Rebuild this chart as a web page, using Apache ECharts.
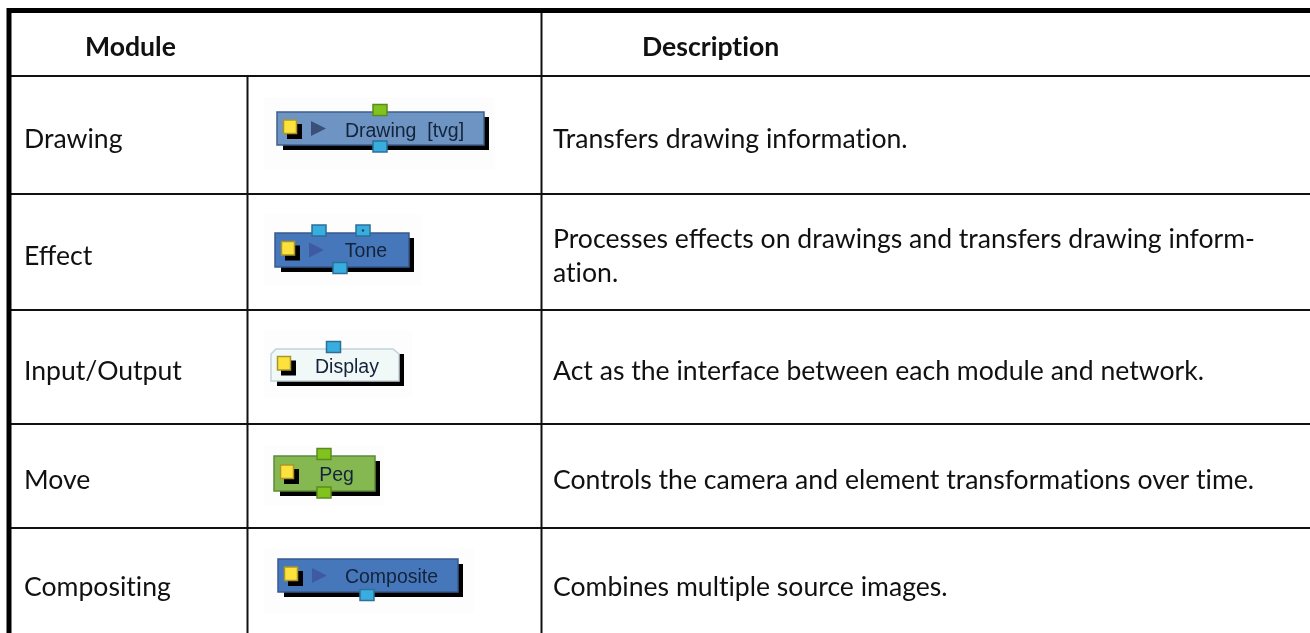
<!DOCTYPE html>
<html>
<head>
<meta charset="utf-8">
<style>
  html, body { margin: 0; padding: 0; background: #fff; }
  #main { width: 1310px; height: 633px; }
</style>
<script src="https://cdn.jsdelivr.net/npm/echarts@6/dist/echarts.min.js"></script>
</head>
<body>
<div id="main"></div>
<script>
// table content
var headers = ['Module', 'Description'];
var modules = ['Drawing', 'Effect', 'Input/Output', 'Move', 'Compositing'];
var nodeLabels = ['Drawing  [tvg]', 'Tone', 'Display', 'Peg', 'Composite'];
var descriptions = [
  'Transfers drawing information.',
  'Processes effects on drawings and transfers drawing inform-\nation.',
  'Act as the interface between each module and network.',
  'Controls the camera and element transformations over time.',
  'Combines multiple source images.'
];

// layout, in page pixels
var rowLines = [76, 194, 310, 424, 528];
var rowText = [139, 256, 371, 480, 587];
var col1 = 247.5, col2 = 541.5;
var textFont = 'Lato, "Noto Sans", sans-serif';
var blue = {c: '#38aee0', e: '#2c6f97'};
var green = {c: '#7fc31c', e: '#5c8a20'};

// look of each node: box, colours, ports
var nodeStyles = [
  {x: 277, y: 112, w: 207, h: 33, fill: '#6d94c2', edge: '#3e5f8c', arrow: '#3b5078', textX: 404.5, textY: 131.5,
    bg: [264, 97, 495, 169], top: [{x: 380, y: 110, s: green}], bottom: [{x: 380, y: 146.5, s: blue}]},
  {x: 275, y: 233, w: 134, h: 34, fill: '#4677ba', edge: '#38598f', arrow: '#3f5aa0', textX: 366, textY: 252,
    bg: [264, 214, 422, 285], top: [{x: 319, y: 230.5, s: blue}, {x: 363, y: 230.5, s: blue, dot: true}],
    bottom: [{x: 340, y: 268, s: blue}]},
  {x: 271, y: 349, w: 128, h: 32, fill: '#f1f8f8', edge: '#c2d2d6', textX: 347, textY: 368, chamfer: true,
    bg: [264, 330, 412, 398], top: [{x: 333.5, y: 347, s: blue}], bottom: []},
  {x: 274, y: 456, w: 101, h: 35, fill: '#86b852', edge: '#5e8a3c', textX: 336.5, textY: 476,
    bg: [264, 445, 384, 505], top: [{x: 324, y: 454, s: green}], bottom: [{x: 324, y: 492.5, s: green}]},
  {x: 278, y: 559, w: 180, h: 33, fill: '#4677ba', edge: '#38598f', arrow: '#3f5aa0', textX: 391.5, textY: 578,
    bg: [264, 548, 474, 613], top: [], bottom: [{x: 367, y: 595, s: blue}]}
];

// Lato joins "ti" into one glyph, the reference does not
function noLig(s) {
  return s.replace(/ti/g, 't\u200ci');
}

function port(api, p) {
  var c = api.coord([p.x, p.y]);
  var out = [{
    type: 'rect',
    shape: {x: c[0] - 7, y: c[1] - 5.5, width: 14, height: 11},
    style: {fill: p.s.c, stroke: p.s.e, lineWidth: 1.5}
  }];
  if (p.dot) {
    out.push({type: 'circle', shape: {cx: c[0], cy: c[1], r: 1.2}, style: {fill: '#1d3f5e'}});
  }
  return out;
}

function drawNode(api, n, label) {
  var o = api.coord([n.x, n.y]);
  var w = api.size([n.w, 0])[0], h = api.size([0, n.h])[1];
  var b0 = api.coord([n.bg[0], n.bg[1]]), b1 = api.coord([n.bg[2], n.bg[3]]);
  var kids = [];
  // faint backing of the pasted screenshot
  kids.push({type: 'rect', shape: {x: b0[0], y: b0[1], width: b1[0] - b0[0], height: b1[1] - b0[1]}, style: {fill: '#fdfdfd'}});
  // hard shadow
  kids.push({type: 'rect', shape: {x: o[0] + 6, y: o[1] + 5, width: w - 1, height: h}, style: {fill: '#000'}});
  if (n.chamfer) {
    kids.push({type: 'polygon', shape: {points: [
      [o[0] + 5, o[1]], [o[0] + w - 6, o[1]], [o[0] + w, o[1] + 5], [o[0] + w, o[1] + h],
      [o[0], o[1] + h], [o[0], o[1] + 5]
    ]}, style: {fill: n.fill, stroke: n.edge, lineWidth: 1.5}});
  } else {
    kids.push({type: 'rect', shape: {x: o[0], y: o[1], width: w, height: h},
      style: {fill: n.fill, stroke: n.edge, lineWidth: 1.5}});
  }
  var my = o[1] + h / 2;
  // yellow selector
  kids.push({type: 'rect', shape: {x: o[0] + 10, y: my - 4.5, width: 15, height: 15}, style: {fill: '#000'}});
  kids.push({type: 'rect', shape: {x: o[0] + 6.5, y: my - 8.5, width: 13, height: 13.5},
    style: {fill: '#fde23e', stroke: '#a8962a', lineWidth: 1.5}});
  if (n.arrow) {
    kids.push({type: 'polygon', shape: {points: [[o[0] + 34, my - 7.5], [o[0] + 49, my], [o[0] + 34, my + 7.5]]},
      style: {fill: n.arrow}});
  }
  var t = api.coord([n.textX, n.textY]);
  kids.push({type: 'text', style: {
    text: label, x: t[0], y: t[1], align: 'center', verticalAlign: 'middle',
    font: '19.5px "Liberation Sans", Arial, sans-serif', fill: '#14233a'
  }});
  n.top.forEach(function (p) { kids = kids.concat(port(api, p)); });
  n.bottom.forEach(function (p) { kids = kids.concat(port(api, p)); });
  return kids;
}

function renderRow(params, api) {
  var i = params.dataIndex;
  var kids = [];
  kids.push({type: 'text', style: {
    text: noLig(modules[i]), x: api.coord([24, 0])[0], y: api.coord([0, rowText[i]])[1],
    align: 'left', verticalAlign: 'middle', font: '26.6px ' + textFont, fill: '#111'
  }});
  kids.push({type: 'text', style: {
    text: noLig(descriptions[i]), x: api.coord([553, 0])[0], y: api.coord([0, rowText[i]])[1],
    align: 'left', verticalAlign: 'middle', font: '26.6px ' + textFont, fill: '#111', lineHeight: 34
  }});
  kids = kids.concat(drawNode(api, nodeStyles[i], nodeLabels[i]));
  return {type: 'group', children: kids};
}

function renderFrame(params, api) {
  function hline(y, x0, x1, lw) {
    var a = api.coord([x0, y]), b = api.coord([x1, y]);
    return {type: 'line', shape: {x1: a[0], y1: a[1], x2: b[0], y2: b[1]}, style: {stroke: '#111', lineWidth: lw}};
  }
  function vline(x, y0, y1, lw) {
    var a = api.coord([x, y0]), b = api.coord([x, y1]);
    return {type: 'line', shape: {x1: a[0], y1: a[1], x2: b[0], y2: b[1]}, style: {stroke: '#111', lineWidth: lw}};
  }
  var kids = [];
  rowLines.forEach(function (y) { kids.push(hline(y, 11, 1310, 2)); });
  kids.push(vline(col1, rowLines[0], 633, 2));
  kids.push(vline(col2, 10, 633, 2));
  // heavy outer frame, top and left only
  kids.push({type: 'line', shape: {x1: 7, y1: 10.5, x2: 1310, y2: 10.5}, style: {stroke: '#000', lineWidth: 5}});
  kids.push({type: 'line', shape: {x1: 9, y1: 8, x2: 9, y2: 633}, style: {stroke: '#000', lineWidth: 5}});
  kids.push({type: 'text', style: {
    text: noLig(headers[0]), x: api.coord([85, 0])[0], y: api.coord([0, 47])[1],
    align: 'left', verticalAlign: 'middle', font: 'bold 26.6px ' + textFont, fill: '#111'
  }});
  kids.push({type: 'text', style: {
    text: noLig(headers[1]), x: api.coord([642, 0])[0], y: api.coord([0, 47])[1],
    align: 'left', verticalAlign: 'middle', font: 'bold 26.6px ' + textFont, fill: '#111'
  }});
  return {type: 'group', children: kids};
}

var chart = echarts.init(document.getElementById('main'), null, {renderer: 'canvas'});
chart.setOption({
  animation: false,
  backgroundColor: '#fff',
  grid: {left: 0, right: 0, top: 0, bottom: 0},
  xAxis: {type: 'value', min: 0, max: 1310, show: false},
  yAxis: {type: 'value', min: 0, max: 633, inverse: true, show: false},
  series: [
    {type: 'custom', name: 'frame', data: [0], renderItem: renderFrame, silent: true, z: 1},
    {type: 'custom', name: 'rows', data: modules.map(function (m, i) { return i; }), renderItem: renderRow, silent: true, z: 2}
  ]
});
</script>
</body>
</html>
